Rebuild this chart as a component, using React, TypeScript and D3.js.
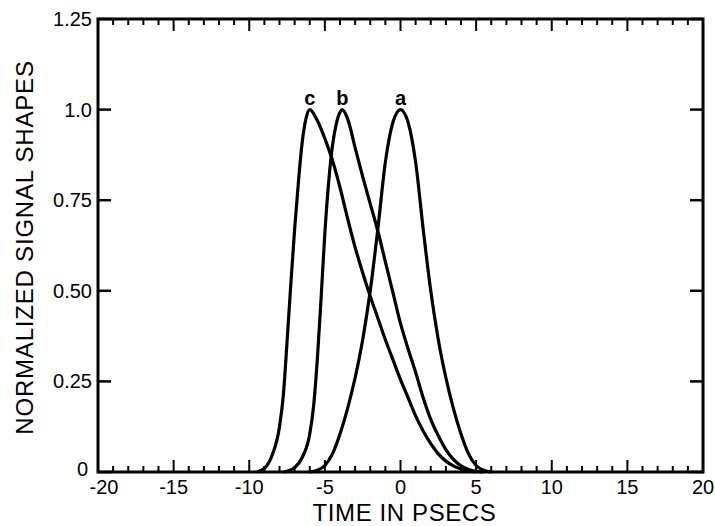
import React from "react";
import * as d3 from "d3";

// ---- data ----
const xTicksMajor = [-20, -15, -10, -5, 0, 5, 10, 15, 20];
const xTickLabels = ["-20", "-15", "-10", "-5", "0", "5", "10", "15", "20"];
const yTicksMajor = [0, 0.25, 0.5, 0.75, 1.0, 1.25];
const yTickLabels = ["0", "0.25", "0.50", "0.75", "1.0", "1.25"];

const tA = [-6, -5.5, -5, -4.5, -4, -3.5, -3, -2.5, -2, -1.5, -1, -0.5, 0, 0.5, 1, 1.5, 2, 2.5, 3, 3.5, 4, 4.5, 5, 5.5, 6];
const vA = [0, 0.005, 0.018, 0.05, 0.105, 0.175, 0.26, 0.365, 0.5, 0.67, 0.855, 0.965, 1.0, 0.965, 0.855, 0.67, 0.5, 0.365, 0.26, 0.175, 0.105, 0.05, 0.018, 0.005, 0];

const tB = [-7.75, -7.5, -7, -6.5, -6, -5.75, -5.5, -5.25, -5, -4.75, -4.5, -4.25, -4, -3.85, -3.5, -3, -2.5, -2, -1.5, -1, -0.5, 0, 0.5, 1, 1.5, 2, 2.5, 3, 3.5, 4, 4.5, 5, 5.5];
const vB = [0, 0.002, 0.012, 0.04, 0.105, 0.18, 0.31, 0.48, 0.66, 0.8, 0.9, 0.96, 0.993, 1.0, 0.975, 0.895, 0.815, 0.74, 0.665, 0.58, 0.495, 0.41, 0.34, 0.275, 0.205, 0.145, 0.1, 0.062, 0.035, 0.017, 0.007, 0.002, 0];

const tC = [-9.5, -9, -8.5, -8, -7.75, -7.5, -7.25, -7, -6.75, -6.5, -6.25, -6, -5.5, -5, -4.5, -4, -3.5, -3, -2.5, -2, -1.5, -1, -0.5, 0, 0.5, 1, 1.5, 2, 2.5, 3, 3.5, 4, 4.5, 5];
const vC = [0, 0.01, 0.045, 0.125, 0.21, 0.36, 0.52, 0.67, 0.8, 0.91, 0.975, 1.0, 0.97, 0.92, 0.86, 0.785, 0.7, 0.62, 0.55, 0.485, 0.425, 0.365, 0.31, 0.255, 0.205, 0.155, 0.113, 0.078, 0.05, 0.03, 0.017, 0.008, 0.003, 0];

const seriesNames = ["a", "b", "c"];
const seriesT = [tA, tB, tC];
const seriesV = [vA, vB, vC];

const xTitle = "TIME IN PSECS";
const yTitle = "NORMALIZED SIGNAL SHAPES";

const W = 715;
const H = 526;
const M = { left: 98, right: 703, top: 19, bottom: 472 };
const FONT = "'Liberation Sans', Arial, sans-serif";

export default function App() {
  const x = d3.scaleLinear().domain([-20, 20]).range([M.left, M.right]);
  const y = d3.scaleLinear().domain([0, 1.25]).range([M.bottom, M.top]);
  const line = d3
    .line<[number, number]>()
    .x((d) => x(d[0]))
    .y((d) => y(d[1]))
    .curve(d3.curveMonotoneX);

  const minorX = d3.range(-20, 21, 1);

  return (
    <svg
      width={W}
      height={H}
      style={{ position: "absolute", left: 0, top: 0, background: "#fff" }}
    >
      <rect x={0} y={0} width={W} height={H} fill="#fff" />
      {/* curves */}
      {seriesNames.map((n, i) => {
        const pts = seriesT[i].map((t, j) => [t, seriesV[i][j]] as [number, number]);
        return (
          <path
            key={n}
            d={line(pts) || ""}
            fill="none"
            stroke="#000"
            strokeWidth={3.2}
            strokeLinejoin="round"
          />
        );
      })}
      {/* curve labels at peaks */}
      {seriesNames.map((n, i) => {
        const idx = d3.maxIndex(seriesV[i]);
        return (
          <text
            key={"l" + n}
            x={x(seriesT[i][idx])}
            y={y(seriesV[i][idx]) - 5}
            textAnchor="middle"
            fontFamily={FONT}
            fontWeight="bold"
            fontSize={20}
          >
            {n}
          </text>
        );
      })}
      {/* ticks bottom/top */}
      {minorX.map((t) => {
        const major = t % 5 === 0;
        const len = major ? 12 : 6;
        return (
          <g key={"xt" + t}>
            <line x1={x(t)} x2={x(t)} y1={M.bottom} y2={M.bottom - len} stroke="#000" strokeWidth={2} />
            <line x1={x(t)} x2={x(t)} y1={M.top} y2={M.top + len} stroke="#000" strokeWidth={2} />
          </g>
        );
      })}
      {yTicksMajor.map((v) => (
        <g key={"yt" + v}>
          <line x1={M.left} x2={M.left + 13} y1={y(v)} y2={y(v)} stroke="#000" strokeWidth={2.5} />
          <line x1={M.right} x2={M.right - 13} y1={y(v)} y2={y(v)} stroke="#000" strokeWidth={2.5} />
        </g>
      ))}
      {/* frame */}
      <rect
        x={M.left}
        y={M.top}
        width={M.right - M.left}
        height={M.bottom - M.top}
        fill="none"
        stroke="#000"
        strokeWidth={3}
      />
      {/* tick labels */}
      {xTicksMajor.map((t, i) => (
        <text
          key={"xl" + t}
          x={x(t)}
          dx={i === 0 ? 6 : 0}
          y={M.bottom + 22}
          textAnchor="middle"
          fontFamily={FONT}
          fontSize={20}
        >
          {xTickLabels[i]}
        </text>
      ))}
      {yTicksMajor.map((v, i) => (
        <text
          key={"yl" + v}
          x={v === 0 ? M.left - 10 : M.left - 6}
          y={y(v)}
          dy={v === 0 ? "0.2em" : "0.35em"}
          textAnchor="end"
          fontFamily={FONT}
          fontSize={20}
        >
          {yTickLabels[i]}
        </text>
      ))}
      {/* axis titles */}
      <text
        x={(M.left + M.right) / 2 + 4}
        y={521}
        textAnchor="middle"
        fontFamily={FONT}
        fontSize={24}
        letterSpacing={0.6}
      >
        {xTitle}
      </text>
      <text
        transform={`translate(33, ${(M.top + M.bottom) / 2 + 2}) rotate(-90)`}
        textAnchor="middle"
        fontFamily={FONT}
        fontSize={24}
        letterSpacing={0.8}
      >
        {yTitle}
      </text>
    </svg>
  );
}
